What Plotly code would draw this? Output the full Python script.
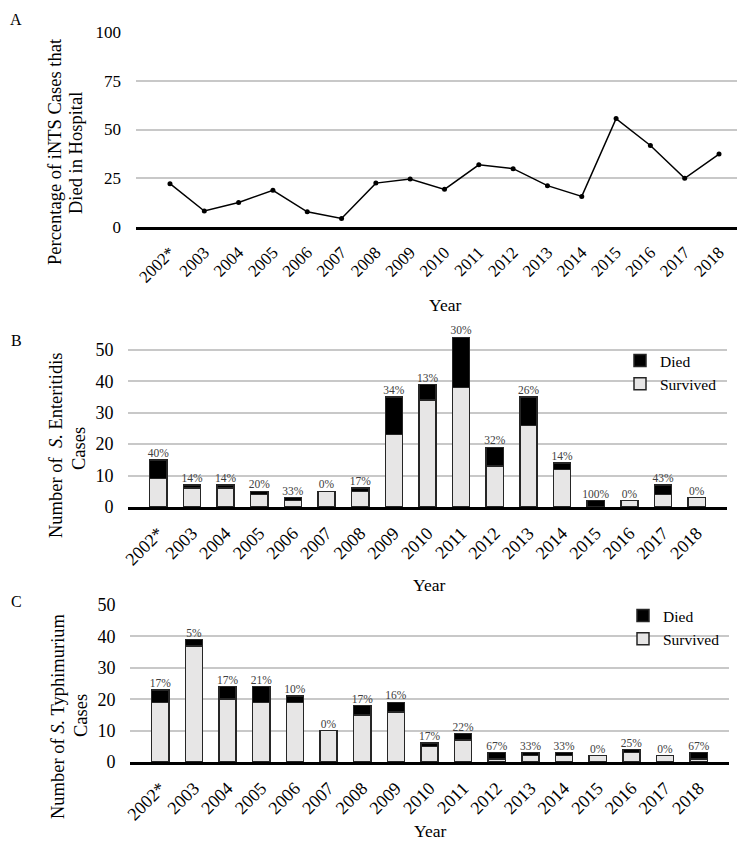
import plotly.graph_objects as go

years = ["2002*", "2003", "2004", "2005", "2006", "2007", "2008", "2009", "2010",
         "2011", "2012", "2013", "2014", "2015", "2016", "2017", "2018"]

# Panel A: percentage of iNTS cases that died in hospital
pct_died = [22.2, 8.2, 12.6, 18.8, 7.8, 4.4, 22.5, 24.6, 19.3,
            31.9, 29.9, 21.2, 15.7, 55.6, 41.8, 25.0, 37.4]

# Panel B: S. Enteritidis
ent_survived = [9, 6, 6, 4, 2, 5, 5, 23, 34, 38, 13, 26, 12, 0, 2, 4, 3]
ent_died = [6, 1, 1, 1, 1, 0, 1, 12, 5, 16, 6, 9, 2, 2, 0, 3, 0]
ent_labels = ["40%", "14%", "14%", "20%", "33%", "0%", "17%", "34%", "13%",
              "30%", "32%", "26%", "14%", "100%", "0%", "43%", "0%"]

# Panel C: S. Typhimurium
typ_survived = [19, 37, 20, 19, 19, 10, 15, 16, 5, 7, 1, 2, 2, 2, 3, 2, 1]
typ_died = [4, 2, 4, 5, 2, 0, 3, 3, 1, 2, 2, 1, 1, 0, 1, 0, 2]
typ_labels = ["17%", "5%", "17%", "21%", "10%", "0%", "17%", "16%", "17%",
              "22%", "67%", "33%", "33%", "0%", "25%", "0%", "67%"]

W, H = 745, 843
FONT = "Liberation Serif, Times New Roman, serif"
SURV_COLOR = "#e7e6e6"
EDGE = "#262626"
GRID = "#c8c8c8"


def px(x):
    return x / W


def py(y):
    return 1 - y / H


fig = go.Figure()

# Panel A line
fig.add_trace(go.Scatter(
    x=years, y=pct_died, mode="lines+markers",
    line=dict(color="black", width=1.5),
    marker=dict(color="black", size=5),
    showlegend=False, xaxis="x", yaxis="y"))


def add_bars(surv, died, labels, ax, ay, legend):
    fig.add_trace(go.Bar(
        x=years, y=surv, name="Survived", width=0.51,
        marker=dict(color=SURV_COLOR, line=dict(color=EDGE, width=1.5)),
        xaxis=ax, yaxis=ay, legend=legend))
    fig.add_trace(go.Bar(
        x=years, y=died, name="Died", width=0.51,
        marker=dict(color="black", line=dict(color=EDGE, width=1.5)),
        xaxis=ax, yaxis=ay, legend=legend))
    totals = [s + d for s, d in zip(surv, died)]
    fig.add_trace(go.Scatter(
        x=years, y=totals, mode="text", text=labels,
        textposition="top center",
        textfont=dict(family=FONT, size=11.5, color="#404040"),
        cliponaxis=False, showlegend=False, hoverinfo="skip",
        xaxis=ax, yaxis=ay))


add_bars(ent_survived, ent_died, ent_labels, "x2", "y2", "legend")
add_bars(typ_survived, typ_died, typ_labels, "x3", "y3", "legend2")


def xaxis_cfg(x0, x1, anchor, size):
    return dict(domain=[px(x0), px(x1)], anchor=anchor, type="category",
                tickangle=-45, tickfont=dict(family=FONT, size=size, color="black"),
                showgrid=False, showline=True, linecolor="black", linewidth=2.5,
                ticks="", ticklabelstandoff=6, fixedrange=True, automargin=False)


def yaxis_cfg(y0, y1, anchor, rng, dtick, size):
    return dict(domain=[py(y0), py(y1)], anchor=anchor, range=rng,
                tickmode="linear", tick0=0, dtick=dtick,
                tickfont=dict(family=FONT, size=size, color="black"),
                showgrid=True, gridcolor=GRID,
                gridwidth=1.5, zeroline=False, showline=False, ticks="",
                ticklabelstandoff=14, fixedrange=True, automargin=False)


legend_common = dict(
    xanchor="left", yanchor="top", traceorder="reversed",
    font=dict(family=FONT, size=15.5, color="black"),
    bgcolor="rgba(0,0,0,0)", tracegroupgap=0, itemwidth=30)

fig.update_layout(
    width=W, height=H,
    margin=dict(l=0, r=0, t=0, b=0),
    paper_bgcolor="white", plot_bgcolor="white",
    font=dict(family=FONT, color="black"),
    barmode="stack",
    xaxis=xaxis_cfg(128, 745, "y", 17),
    yaxis=yaxis_cfg(219, 24, "x", [0, 100], 25, 17),
    xaxis2=xaxis_cfg(120.4, 718.6, "y2", 18),
    yaxis2=yaxis_cfg(499, 323, "x2", [0, 56], 10, 18),
    xaxis3=xaxis_cfg(122.4, 720.6, "y3", 18),
    yaxis3=yaxis_cfg(754, 597, "x3", [0, 50], 10, 18),
    legend=dict(x=px(612), y=py(336), **legend_common),
    legend2=dict(x=px(615), y=py(591), **legend_common),
)

annotations = []
for label, x, y in [("A", 8, 12), ("B", 8, 332), ("C", 8, 593)]:
    annotations.append(dict(text=label, x=px(x), y=py(y), yanchor="middle"))
    annotations[-1].update(font=dict(family=FONT, size=16, color="black"))

ytitles = [
    ("Percentage of iNTS Cases that", 47, 144),
    ("Died in Hospital", 68, 145),
    ("Number of  <i>S.</i> Enteritidis", 48, 437),
    ("Cases", 71, 441),
    ("Number of <i>S.</i> Typhimurium", 50, 708),
    ("Cases", 73, 708),
]
for text, x, y in ytitles:
    annotations.append(dict(text=text, x=px(x), y=py(y), textangle=-90,
                            yanchor="middle",
                            font=dict(family=FONT, size=18.5, color="black")))

for x, y, anch in [(437, 297, "middle"), (421, 577, "middle"), (422, 835, "bottom")]:
    annotations.append(dict(text="Year", x=px(x), y=py(y), yanchor=anch,
                            font=dict(family=FONT, size=17.5, color="black")))

for a in annotations:
    a.update(xref="paper", yref="paper", showarrow=False, xanchor="center")

fig.update_layout(annotations=annotations)

fig.write_html("out.html")
